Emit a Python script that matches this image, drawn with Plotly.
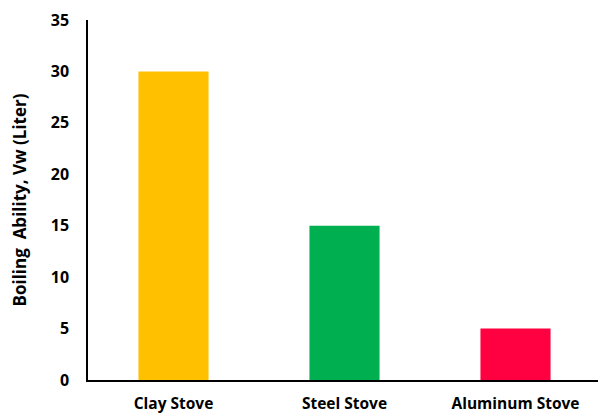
import plotly.graph_objects as go

categories = ["Clay Stove", "Steel Stove", "Aluminum Stove"]
values = [30, 15, 5]
colors = ["#FFC000", "#00B050", "#FF0040"]
y_ticks = [0, 5, 10, 15, 20, 25, 30, 35]

fig = go.Figure(go.Bar(x=categories, y=values, marker=dict(color=colors, line=dict(width=0)), width=0.41))

font = "'Open Sans', sans-serif"
fig.update_layout(
    width=598, height=407,
    margin=dict(l=80, r=5, t=12, b=35, autoexpand=False),
    plot_bgcolor="white", paper_bgcolor="white",
    showlegend=False,
    font=dict(family=font, color="black"),
)
fig.update_xaxes(
    showline=True, linecolor="black", linewidth=1.5, automargin=False,
    showgrid=False, ticks="", ticklabelstandoff=9,
    tickfont=dict(size=15.5, family=font, weight="bold"),
)
fig.update_yaxes(
    range=[0, 35], tickvals=y_ticks, showline=True, linecolor="black", linewidth=1.5,
    showgrid=False, zeroline=False, ticks="", ticklabelstandoff=14, automargin=False,
    tickfont=dict(size=16, family=font, weight="bold"),
    title=dict(text="Boiling  Ability, Vw (Liter)", font=dict(size=17, family=font, weight="bold"), standoff=20),
)
fig.write_html("out.html")
